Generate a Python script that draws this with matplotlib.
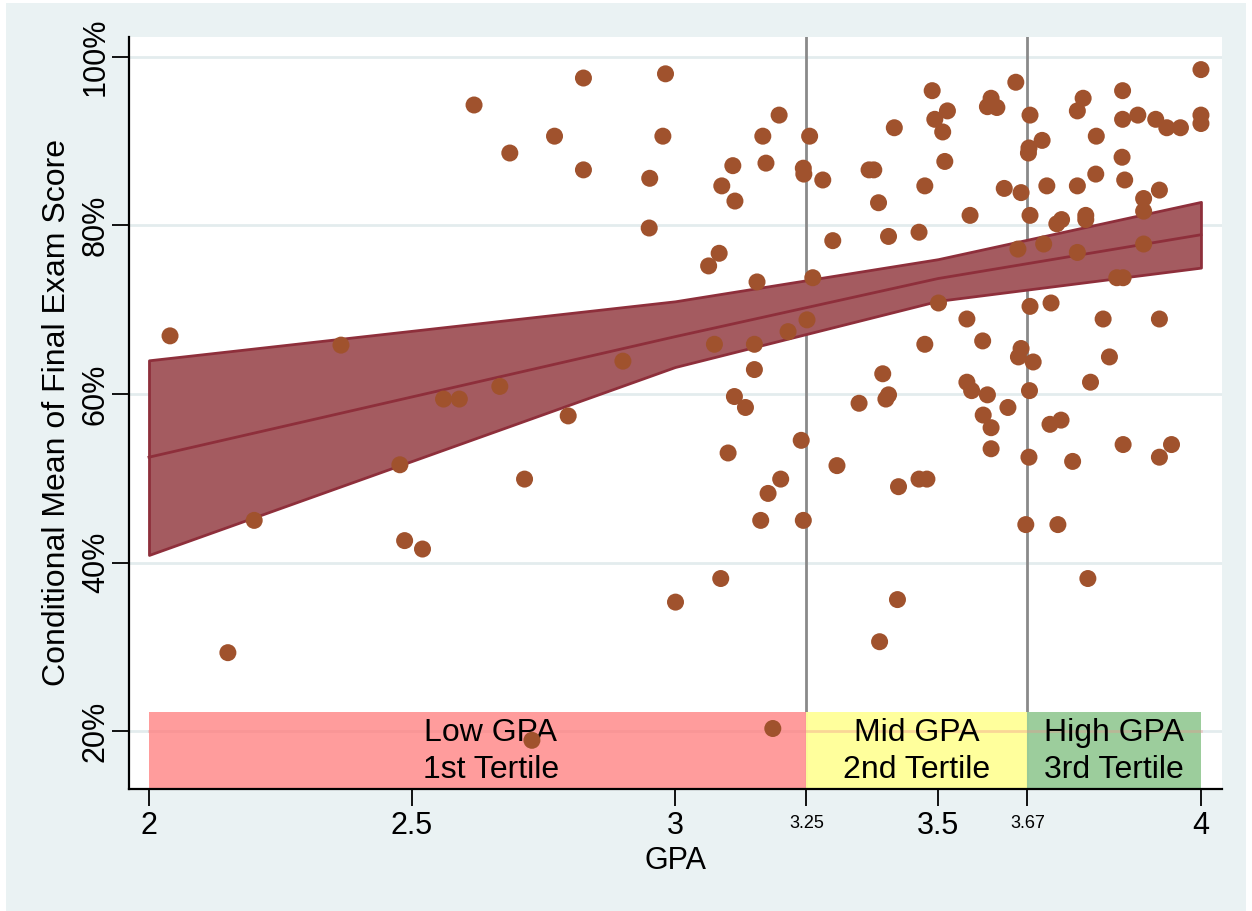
import matplotlib.pyplot as plt
from matplotlib.patches import Rectangle

plt.rcParams['font.family'] = ['Liberation Sans', 'DejaVu Sans']

# GPA and final exam score (%) for each student
gpa = [2.04, 2.15, 2.20, 2.365, 2.477, 2.486, 2.52, 2.618, 2.56, 2.59,
       2.667, 2.686, 2.714, 2.728, 2.771, 2.797, 2.826, 2.826, 2.901, 2.951,
       2.952, 2.977, 2.982, 3.001,
       3.064, 3.075, 3.084, 3.089, 3.087, 3.101, 3.110, 3.114, 3.113, 3.134,
       3.151, 3.151, 3.156, 3.163, 3.167, 3.173, 3.177, 3.186, 3.198, 3.201,
       3.215, 3.240, 3.244, 3.244, 3.245, 3.251, 3.256, 3.262, 3.281,
       3.300, 3.308, 3.350, 3.369, 3.378, 3.387, 3.389, 3.395, 3.401, 3.406,
       3.406, 3.417, 3.423, 3.425, 3.464, 3.464, 3.475, 3.475, 3.479, 3.489,
       3.494, 3.501, 3.509, 3.513, 3.518, 3.555, 3.555, 3.561, 3.564, 3.585,
       3.586, 3.594, 3.594, 3.601, 3.612, 3.601, 3.601, 3.626, 3.633, 3.648,
       3.652, 3.653, 3.658, 3.658, 3.667,
       3.672, 3.673, 3.674, 3.673, 3.675, 3.675, 3.675, 3.681, 3.698, 3.701,
       3.707, 3.713, 3.715, 3.726, 3.728, 3.735, 3.734, 3.756, 3.765, 3.765,
       3.765, 3.776, 3.781, 3.781, 3.785, 3.790, 3.801, 3.800, 3.814, 3.826,
       3.840, 3.852, 3.851, 3.851, 3.850, 3.855, 3.852, 3.880, 3.891, 3.891,
       3.891, 3.914, 3.921, 3.921, 3.921, 3.935, 3.944, 3.961, 4.0, 4.0, 4.0]
score = [66.9, 29.3, 45.0, 65.8, 51.6, 42.6, 41.6, 94.3, 59.4, 59.4,
         60.9, 88.6, 49.9, 18.9, 90.6, 57.4, 97.5, 86.6, 63.9, 79.7,
         85.6, 90.6, 98.0, 35.3,
         75.2, 65.9, 76.7, 84.7, 38.1, 53.0, 87.1, 82.9, 59.7, 58.4,
         65.9, 62.9, 73.3, 45.0, 90.6, 87.4, 48.2, 20.3, 93.1, 49.9,
         67.4, 54.5, 45.0, 86.8, 86.1, 68.8, 90.6, 73.8, 85.4,
         78.2, 51.5, 58.9, 86.6, 86.6, 82.7, 30.6, 62.4, 59.4, 59.9,
         78.7, 91.6, 35.6, 49.0, 49.9, 79.2, 84.7, 65.9, 49.9, 96.0,
         92.6, 70.8, 91.1, 87.6, 93.6, 68.9, 61.4, 81.2, 60.4, 66.3,
         57.5, 59.9, 94.1, 95.1, 94.0, 56.0, 53.5, 84.4, 58.4, 97.0,
         77.2, 64.4, 65.4, 83.9, 44.5,
         88.6, 89.2, 60.4, 52.5, 93.1, 81.2, 70.4, 63.8, 90.1, 77.8,
         84.7, 56.4, 70.8, 80.2, 44.5, 80.7, 56.9, 52.0, 84.7, 76.8,
         93.6, 95.1, 81.2, 80.7, 38.1, 61.4, 90.6, 86.1, 68.9, 64.4,
         73.8, 73.8, 96.0, 92.6, 88.1, 85.4, 54.0, 93.1, 83.2, 81.7,
         77.8, 92.6, 84.2, 68.9, 52.5, 91.6, 54.0, 91.6, 98.5, 93.1, 92.1]

# fitted line and confidence band
fit_x = [2.0, 3.0, 3.5, 4.0]
fit_mid = [52.5, 66.8, 73.7, 78.9]
fit_lo = [40.9, 63.2, 71.05, 75.0]
fit_hi = [64.0, 71.0, 76.0, 82.8]

# GPA tertiles
cuts = [2.0, 3.25, 3.67, 4.0]
tertile_labels = ['Low GPA\n1st Tertile', 'Mid GPA\n2nd Tertile', 'High GPA\n3rd Tertile']
tertile_colors = ['#FF9999', '#FFFF99', '#99CC99']
label_x = [2.65, 3.46, 3.835]

fig = plt.figure(figsize=(12.52, 9.11), dpi=100)
fig.patch.set_facecolor('white')
fig.patches.append(Rectangle((6 / 1252, 0), 1240 / 1252, 1 - 3 / 911,
                             transform=fig.transFigure, facecolor='#EAF2F3',
                             edgecolor='none', zorder=-10))
ax = fig.add_axes([129 / 1252, 122 / 911, 1093 / 1252, 752 / 911])
ax.set_facecolor('white')

ax.set_xlim(1.962, 4.04)
ax.set_ylim(13.12, 102.37)

# horizontal grid
for yv in [20, 40, 60, 80, 100]:
    ax.axhline(yv, color='#E3ECEE', lw=2, zorder=0.5)

# tertile cutoffs
for c in cuts[1:3]:
    ax.axvline(c, color='#8A8A8A', lw=2, zorder=1)

# tertile boxes
for i in range(3):
    ax.add_patch(Rectangle((cuts[i], 13.12), cuts[i + 1] - cuts[i], 22.25 - 13.12,
                           facecolor=tertile_colors[i], edgecolor='none',
                           alpha=0.97, zorder=1.5))
    ax.text(label_x[i], 17.55, tertile_labels[i], ha='center', va='center',
            fontsize=23, linespacing=1.3, zorder=2)
ax.axhline(20, xmin=0.0183, xmax=0.981, color='#F08E8E', lw=2, alpha=0.35, zorder=1.6)

# confidence band and fit line
ax.fill_between(fit_x, fit_lo, fit_hi, facecolor='#A45B60', edgecolor='#8E2F3B',
                lw=2, zorder=3)
ax.plot(fit_x, fit_mid, color='#8E2F3B', lw=2, zorder=3.5)

# students
ax.scatter(gpa, score, s=150, color='#A0522D', edgecolors='none', zorder=4)

# axes styling
for side in ['top', 'right']:
    ax.spines[side].set_visible(False)
for side in ['left', 'bottom']:
    ax.spines[side].set_linewidth(1.6)
    ax.spines[side].set_color('black')

ax.set_xticks([2, 2.5, 3, 3.5, 4])
ax.set_xticklabels(['2', '2.5', '3', '3.5', '4'])
ax.set_xticks([3.25, 3.67], minor=True)
ax.set_xticklabels(['3.25', '3.67'], minor=True)
ax.tick_params(axis='x', which='major', labelsize=22, length=12, width=1.3, pad=4)
ax.tick_params(axis='x', which='minor', labelsize=13, length=12, width=1.3, pad=7)

ax.set_yticks([20, 40, 60, 80, 100])
ax.set_yticklabels(['20%', '40%', '60%', '80%', '100%'])
ax.tick_params(axis='y', labelsize=22, length=12, width=1.3, pad=1)
for lab in ax.get_yticklabels():
    lab.set_rotation(90)
    lab.set_va('center')
    lab.set_ha('right')

ax.set_xlabel('GPA', fontsize=22)
ax.xaxis.set_label_coords(0.5, -0.076)
ax.set_ylabel('Conditional Mean of Final Exam Score', fontsize=23)
ax.yaxis.set_label_coords(-0.052, 0.5)

fig.savefig('out.png', dpi=100, facecolor=fig.get_facecolor())
